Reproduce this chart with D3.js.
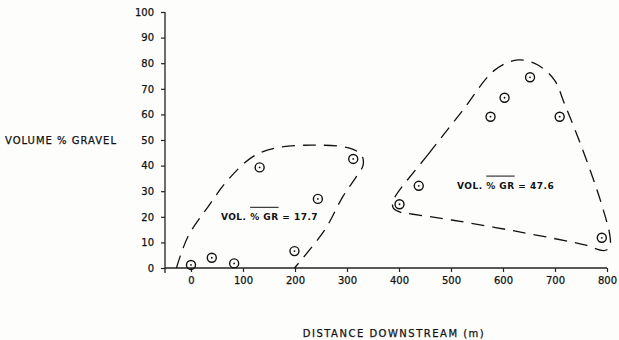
<!DOCTYPE html>
<html>
<head>
<meta charset="utf-8">
<script src="https://cdn.jsdelivr.net/npm/d3@7"></script>
<style>
  body { margin: 0; background: #fdfdfc; }
  text { font-family: "DejaVu Sans", sans-serif; fill: #111; }
</style>
</head>
<body>
<div id="chart"></div>
<script>
// samples, upstream reach
const dist1 = [0, 40, 83, 132, 199, 244, 312];
const gravel1 = [1.2, 4, 1.8, 39.3, 6.6, 27, 42.6];
// samples, downstream reach
const dist2 = [401, 438, 576, 603, 652, 709, 790];
const gravel2 = [24.9, 32.1, 59.1, 66.5, 74.5, 59.1, 11.8];

// hand-drawn envelopes round each group [distance, % gravel]
const envelope1 = [[-28, 0], [-6, 12.2], [33, 24], [71, 34.4], [119, 43.5], [161, 46.8], [238, 48],
  [305, 46.8], [328, 44.1], [331, 40.2], [318, 35.7], [292, 27.9], [257, 14.8], [199, 0]];
const envelope2 = [[392.5, 27.9], [456, 44.4], [520, 60.9], [584, 77.3], [629, 81.3], [667, 79.3],
  [699, 73.4], [718, 64.3], [751, 47.4], [789, 25.3], [806, 12], [805, 8], [794, 6.8], [757, 9],
  [629, 14.2], [501, 18.75], [424, 21.1], [402, 21.8], [389.4, 23.3], [387.5, 25.3]];

const meanLabels = [
  {pre: "VOL. ", bar: "% GR", post: " = 17.7", at: [151, 19.8]},
  {pre: "VOL. ", bar: "% GR", post: " = 47.6", at: [605, 32]}
];

const xTicks = [0, 100, 200, 300, 400, 500, 600, 700, 800];
const yTicks = [0, 10, 20, 30, 40, 50, 60, 70, 80, 90, 100];

const W = 619, H = 340;
const svg = d3.select("#chart").append("svg")
    .attr("width", W)
    .attr("height", H);

const x = d3.scaleLinear().domain([-50, 800]).range([165, 607]);
const y = d3.scaleLinear().domain([0, 100]).range([268, 12]);

// axes
const xAxis = svg.append("g")
    .attr("transform", `translate(0,${y(0)})`)
    .call(d3.axisBottom(x).tickValues(xTicks).tickSize(4).tickSizeOuter(0).tickPadding(5));
xAxis.select(".domain").remove();
svg.append("line")
    .attr("x1", x(-50)).attr("x2", x(800))
    .attr("y1", y(0)).attr("y2", y(0))
    .attr("stroke", "#222").attr("stroke-width", 1.3);

const yAxis = svg.append("g")
    .attr("transform", `translate(${x(-50)},0)`)
    .call(d3.axisLeft(y).tickValues(yTicks).tickSize(4).tickSizeOuter(0).tickPadding(7));
yAxis.select(".domain").remove();
svg.append("line")
    .attr("x1", x(-50)).attr("x2", x(-50))
    .attr("y1", y(0) + 5).attr("y2", y(100))
    .attr("stroke", "#222").attr("stroke-width", 1.3);

svg.selectAll(".tick line").attr("stroke", "#222").attr("stroke-width", 1.2);
svg.selectAll(".tick text")
    .style("font-size", "10px")
    .attr("fill", "#111")
    .attr("stroke", "#111")
    .attr("stroke-width", 0.25);

// axis titles
svg.append("text")
    .attr("x", 5)
    .attr("y", y(50))
    .attr("dy", "0.35em")
    .attr("stroke", "#111")
    .attr("stroke-width", 0.25)
    .style("font-size", "10px")
    .style("letter-spacing", "1px")
    .text("VOLUME % GRAVEL");

svg.append("text")
    .attr("x", 394)
    .attr("y", 333)
    .attr("dy", "0.35em")
    .attr("text-anchor", "middle")
    .attr("stroke", "#111")
    .attr("stroke-width", 0.25)
    .style("font-size", "10px")
    .style("letter-spacing", "1.5px")
    .text("DISTANCE DOWNSTREAM (m)");

// envelopes
svg.append("path")
    .datum(envelope1)
    .attr("fill", "none")
    .attr("stroke", "#111")
    .attr("stroke-width", 1.3)
    .attr("stroke-dasharray", "13,8")
    .attr("d", d3.line().x(d => x(d[0])).y(d => y(d[1])).curve(d3.curveCatmullRom));

svg.append("path")
    .datum(envelope2)
    .attr("fill", "none")
    .attr("stroke", "#111")
    .attr("stroke-width", 1.3)
    .attr("stroke-dasharray", "13,8")
    .attr("d", d3.line().x(d => x(d[0])).y(d => y(d[1])).curve(d3.curveCatmullRomClosed));

// points
const pts = dist1.map((d, i) => [d, gravel1[i]]).concat(dist2.map((d, i) => [d, gravel2[i]]));
const dots = svg.append("g").selectAll("g")
    .data(pts)
    .enter().append("g")
    .attr("transform", d => `translate(${x(d[0])},${y(d[1])})`);
dots.append("circle")
    .attr("r", 4.5)
    .attr("fill", "none")
    .attr("stroke", "#111")
    .attr("stroke-width", 1.4);
dots.append("circle")
    .attr("r", 0.9)
    .attr("fill", "#111");

// mean labels with overline over "% GR"
meanLabels.forEach(l => {
  const t = svg.append("text")
      .attr("x", x(l.at[0]))
      .attr("y", y(l.at[1]))
      .attr("dy", "0.35em")
      .attr("text-anchor", "middle")
      .style("font-size", "9px")
      .style("font-weight", "bold")
      .style("letter-spacing", "0.5px")
      .text(l.pre + l.bar + l.post);
  const node = t.node();
  const start = node.getStartPositionOfChar(l.pre.length).x;
  const len = node.getSubStringLength(l.pre.length, l.bar.length);
  svg.append("line")
      .attr("x1", start).attr("x2", start + len)
      .attr("y1", y(l.at[1]) - 10).attr("y2", y(l.at[1]) - 10)
      .attr("stroke", "#111").attr("stroke-width", 1);
});
</script>
</body>
</html>
